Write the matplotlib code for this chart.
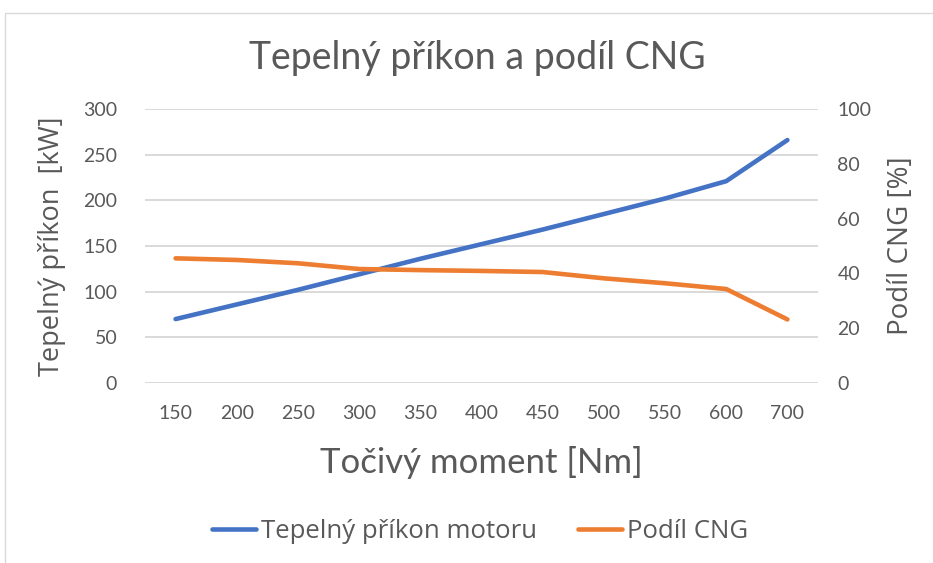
import matplotlib
matplotlib.use("Agg")
import matplotlib.pyplot as plt
from matplotlib.patches import Rectangle
from matplotlib.lines import Line2D

# data
torque = ["150", "200", "250", "300", "350", "400", "450", "500", "550", "600", "700"]
heat_input = [70, 86, 102, 119, 136, 152, 168, 185, 202, 221, 266]   # kW
cng_share = [45.5, 44.9, 43.7, 41.6, 41.2, 40.9, 40.5, 38.2, 36.4, 34.3, 23.2]  # %
left_ticks = [0, 50, 100, 150, 200, 250, 300]
right_ticks = [0, 20, 40, 60, 80, 100]

BLUE = "#4472C4"
ORANGE = "#ED7D31"
GRAY = "#595959"
W, H = 933, 563
WIDE = ["Open Sans", "DejaVu Sans"]

plt.rcParams["font.family"] = ["Lato", "DejaVu Sans"]

fig = plt.figure(figsize=(W / 100, H / 100), dpi=100)
ax = fig.add_axes([145 / W, 1 - 383 / H, (818 - 145) / W, (383 - 109) / H])
ax2 = ax.twinx()

x = list(range(len(torque)))
ax.plot(x, heat_input, color=BLUE, lw=3.3, solid_capstyle="round", zorder=3)
ax2.plot(x, cng_share, color=ORANGE, lw=3.3, solid_capstyle="round", zorder=3)

ax.set_xlim(-0.5, len(torque) - 0.5)
ax.set_ylim(0, 300)
ax2.set_ylim(0, 100)
ax.set_xticks(x)
ax.set_xticklabels(torque)
ax.set_yticks(left_ticks)
ax2.set_yticks(right_ticks)
ax.grid(axis="y", color="#d9d9d9", lw=1.4)
ax.set_axisbelow(True)

for a in (ax, ax2):
    for s in a.spines.values():
        s.set_visible(False)
    a.tick_params(length=0, labelsize=14, colors=GRAY)
ax.tick_params(axis="x", pad=16)
ax.tick_params(axis="y", pad=20)
ax2.tick_params(axis="y", pad=14)

ax.set_xlabel("Točivý moment [Nm]", fontsize=25, color=GRAY, labelpad=17)
ax.set_ylabel("Tepelný příkon  [kW]", fontsize=19.5, color=GRAY,
              family=WIDE, labelpad=12)
ax2.set_ylabel("Podíl CNG [%]", fontsize=20, color=GRAY,
               family=WIDE, labelpad=11)

fig.text(477 / W, 1 - 58 / H, "Tepelný příkon a podíl CNG", fontsize=27,
         color=GRAY, ha="center", va="center")

handles = [Line2D([], [], color=BLUE, lw=3.3, solid_capstyle="round"),
           Line2D([], [], color=ORANGE, lw=3.3, solid_capstyle="round")]
fig.legend(handles, ["Tepelný příkon motoru", "Podíl CNG"], loc="center",
           bbox_to_anchor=(480 / W, 1 - 531 / H), ncol=2, frameon=False,
           prop={"family": WIDE, "size": 18.5}, labelcolor=GRAY,
           handlelength=1.7, handletextpad=0.2, columnspacing=1.6)

fig.patches.append(Rectangle((5 / W, -0.1), 1.1, 1.1 - 13 / H,
                             transform=fig.transFigure, fill=False,
                             edgecolor="#d9d9d9", lw=1))

fig.savefig("out.png", dpi=100)
